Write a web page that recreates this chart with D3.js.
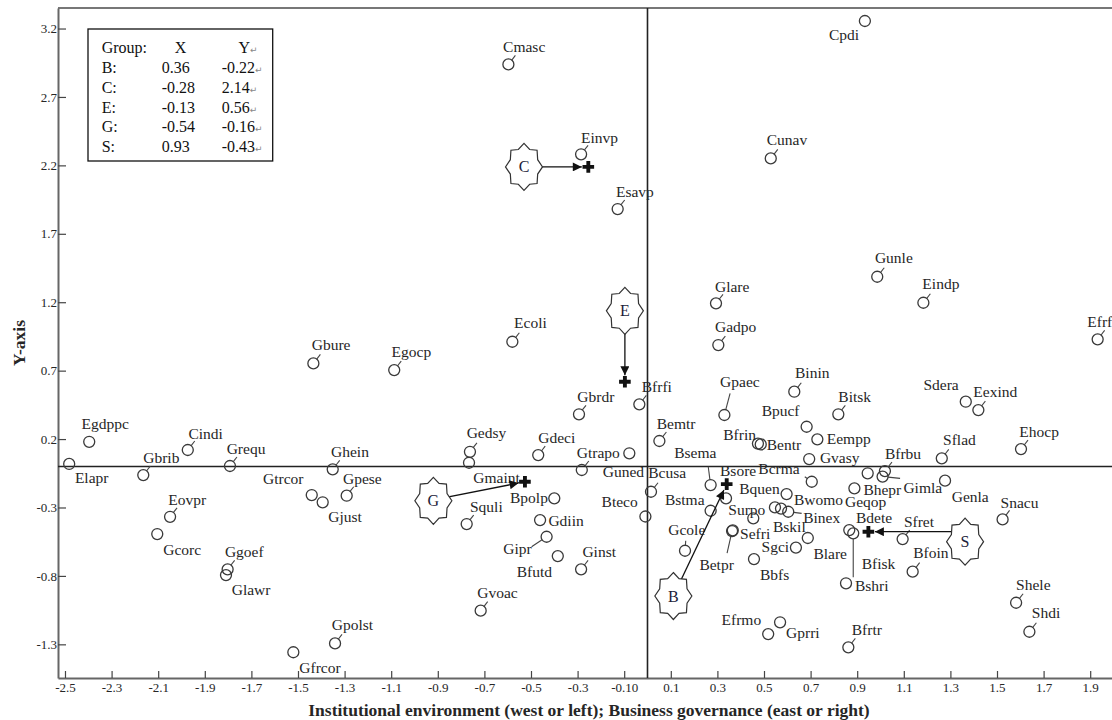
<!DOCTYPE html>
<html><head><meta charset="utf-8">
<script src="https://cdn.jsdelivr.net/npm/d3@7"></script>
<style>
body{margin:0;background:#fff;}
svg{display:block;font-family:"Liberation Serif","Times New Roman",serif;}
</style></head><body>
<svg id="chart" width="1112" height="720"></svg>
<script>
// ---------- DATA ----------
const pointNames = ["Cmasc","Einvp","Esavp","Cpdi","Cunav","Gbure","Egdppc","Cindi","Grequ","Ghein",
"Elapr","Gbrib","Gtrcor","Gjust","Gpese","Eovpr","Gcorc","Ggoef","Glawr","Gpolst",
"Gfrcor","Glare","Gadpo","Ecoli","Egocp","Bfrfi","Gbrdr","Gpaec","Bemtr","Bfrin",
"Bentr","Bpucf","Eempp","Gedsy","Gmaint","Gdeci","Gtrapo","Guned","Bcusa","Bteco",
"Bsema","Bsore","Bstma","Surpo","Bquen","Bwomo","Bskil","Binex","Sefri","Betpr",
"Sgci","Blare","Gcole","Bbfs","Bcrma","Gvasy","Bfrbu","Gimla","Geqop","Bhepr",
"Bdete","Bfisk","Bshri","Sfret","Bfoin","Genla","Sflad","Snacu","Ehocp","Sdera",
"Eexind","Binin","Bitsk","Gunle","Eindp","Efrf","Squli","Bpolp","Gdiin","Gipr",
"Bfutd","Ginst","Gvoac","Efrmo","Gprri","Bfrtr","Shele","Shdi"];
const pointX = [-0.597,-0.285,-0.128,0.933,0.529,-1.434,-2.396,-1.973,-1.792,-1.351,
-2.482,-2.164,-1.441,-1.394,-1.291,-2.049,-2.104,-1.802,-1.809,-1.341,
-1.520,0.294,0.304,-0.580,-1.087,-0.035,-0.294,0.330,0.051,0.474,
0.486,0.683,0.729,-0.762,-0.766,-0.469,-0.078,-0.282,0.015,-0.009,
0.271,0.337,0.271,0.454,0.597,0.547,0.573,0.604,0.366,0.363,
0.637,0.688,0.161,0.457,0.705,0.694,1.019,1.009,0.945,0.888,
0.866,0.883,0.852,1.095,1.138,1.277,1.263,1.524,1.603,1.366,
1.420,0.630,0.819,0.986,1.184,1.932,-0.776,-0.400,-0.461,-0.433,
-0.385,-0.285,-0.716,0.518,0.569,0.862,1.582,1.639];
const pointY = [2.938,2.281,1.881,3.255,2.251,0.753,0.180,0.120,0.003,-0.021,
0.018,-0.063,-0.209,-0.262,-0.214,-0.368,-0.494,-0.752,-0.794,-1.293,
-1.358,1.192,0.887,0.911,0.704,0.454,0.381,0.376,0.186,0.167,
0.161,0.290,0.198,0.107,0.027,0.083,0.096,-0.026,-0.185,-0.366,
-0.136,-0.233,-0.324,-0.379,-0.202,-0.299,-0.308,-0.331,-0.467,-0.472,
-0.593,-0.523,-0.616,-0.677,-0.112,0.054,-0.034,-0.074,-0.050,-0.160,
-0.465,-0.489,-0.854,-0.531,-0.769,-0.104,0.059,-0.387,0.127,0.473,
0.412,0.546,0.381,1.386,1.196,0.929,-0.421,-0.233,-0.392,-0.514,
-0.655,-0.752,-1.054,-1.225,-1.139,-1.322,-0.996,-1.208];

const groupNames = ["B","C","E","G","S"];
const groupTableX = ["0.36","-0.28","-0.13","-0.54","0.93"];
const groupTableY = ["-0.22","2.14","0.56","-0.16","-0.43"];
const centroidX = [0.340,-0.254,-0.097,-0.526,0.948];
const centroidY = [-0.129,2.189,0.619,-0.112,-0.477];
const starX = [0.111,-0.530,-0.097,-0.919,1.363];
const starY = [-0.947,2.189,1.137,-0.251,-0.550];
const arrowFromX = [0.111,-0.530,-0.097,-0.919,1.363];
const arrowFromY = [-0.947,2.189,1.137,-0.245,-0.477];

const xTicks = [-2.5,-2.3,-2.1,-1.9,-1.7,-1.5,-1.3,-1.1,-0.9,-0.7,-0.5,-0.3,-0.1,0.1,0.3,0.5,0.7,0.9,1.1,1.3,1.5,1.7,1.9];
const yTicks = [-1.3,-0.8,-0.3,0.2,0.7,1.2,1.7,2.2,2.7,3.2];

// ---------- LAYOUT (label offsets in px, leader: 0 none, 1 short tail, [dx,dy] end) ----------
const labelOffsets = [[-5.3,-12],[0,-11.3],[-1.7,-12.3],[-36,19],[-4,-13.3],[-1.6,-13.3],[-7.6,-12.4],[0.6,-11],[-3.3,-12],[-1.7,-12.6],
[5.7,19.5],[0,-12.3],[-48.7,-11],[5.6,19.4],[-3.7,-11.7],[-1.7,-11.7],[6,21],[-2.7,-12.6],[5.7,20],[-3.3,-13.3],
[6,20.4],[-1,-11.6],[-3.3,-13.3],[1.7,-13.4],[-2.6,-12.7],[2.4,-12.6],[-1.7,-12.6],[-4.3,-28.3],[-2.6,-11.7],[-34.7,-3.5],
[6,5.7],[-45,-10.7],[9.4,4.7],[-3.3,-13.7],[4.3,20.6],[0,-12],[-52.6,4.7],[21,6.7],[-2.7,-13.7],[-43.8,-9.8],
[-36.4,-27],[-6,-22.3],[-45.7,-5.7],[-25,-3],[-47.4,0],[19,-2.3],[-8,23.5],[15,11.6],[7.3,9],[-32.7,39],
[-34.3,4.8],[5.6,21],[-16.7,-15.7],[6,21],[-53.4,-7.4],[10.7,4.3],[0,-12],[20.8,16.5],[-22.7,34],[9,6.5],
[6.7,-6.7],[8.4,35.7],[9,7.4],[1.3,-12.3],[0.6,-13.4],[6.7,21.6],[1.3,-13.3],[-2,-11],[-1.7,-12.3],[-42.4,-11.7],
[-5,-13.3],[0.7,-13.4],[0,-12.6],[-2.3,-13.4],[-1,-13.4],[-10.4,-12.6],[3.3,-12.3],[-44.3,5],[8.3,6],[-43.4,17.3],
[-41,20.7],[1.3,-12.6],[-3.4,-12.4],[-46.6,-9],[6,16],[3.4,-12.3],[0,-12.7],[2.4,-13.4]];
const leaders = [1,1,1,0,1,1,0,1,1,1,
0,1,0,0,1,1,0,1,0,1,
0,1,1,1,1,1,1,[5.7,-21.7],1,0,
0,0,0,1,0,1,0,1,1,0,
[-2.4,-18.3],0,0,0,0,0,0,[13.4,1.6],0,[-5,22],
0,0,[0.7,-10],0,[-7,-5],0,1,[17.5,1.8],0,0,
0,[0,44],0,1,1,0,1,1,1,0,
1,1,1,1,1,1,1,0,0,[-15,10],
0,1,1,0,0,1,1,1];

// ---------- CHART ----------
const svg = d3.select("#chart");
const W = 1112;
const pLeft = 58, pTop = 8, pBottom = 678;
const x = d3.scaleLinear().domain([-2.53, 2.0]).range([58, 1113.5]);
const y = d3.scaleLinear().domain([-1.546, 3.35]).range([pBottom, pTop]);
const ink = "#262626";

const fmt = d => (d < 0 ? "-" : "") + (Math.abs(d + 0.1) < 1e-9 ? "0.10" : Math.abs(d).toFixed(1));

svg.append("line").attr("x1", pLeft).attr("x2", W).attr("y1", pTop).attr("y2", pTop)
  .attr("stroke", "#777").attr("stroke-width", 2);

const gx = svg.append("g").attr("transform", `translate(0,${pBottom})`)
  .call(d3.axisBottom(x).tickValues(xTicks).tickSizeInner(-7).tickSizeOuter(0).tickPadding(5).tickFormat(fmt));
const gy = svg.append("g").attr("transform", `translate(${pLeft},0)`)
  .call(d3.axisLeft(y).tickValues(yTicks).tickSizeInner(-8).tickSizeOuter(0).tickPadding(1).tickFormat(fmt));
[gx, gy].forEach(g => {
  g.select(".domain").attr("stroke", "#666").attr("stroke-width", 2);
  g.selectAll(".tick line").attr("stroke", "#444").attr("stroke-width", 1.2);
  g.selectAll(".tick text").attr("fill", ink).style("font-size", "13px")
    .style("font-family", "'Liberation Serif',serif");
});

svg.append("line").attr("x1", x(0)).attr("x2", x(0)).attr("y1", pTop).attr("y2", pBottom)
  .attr("stroke", "#222").attr("stroke-width", 1.6);
svg.append("line").attr("x1", pLeft).attr("x2", W).attr("y1", y(0)).attr("y2", y(0))
  .attr("stroke", "#222").attr("stroke-width", 1.6);

svg.append("text").attr("transform", "translate(25,343) rotate(-90)")
  .attr("text-anchor", "middle").attr("font-weight", "bold").attr("font-size", 17.5).attr("fill", ink)
  .text("Y-axis");
svg.append("text").attr("x", 589).attr("y", 716).attr("text-anchor", "middle")
  .attr("font-weight", "bold").attr("font-size", 17.5).attr("fill", ink)
  .text("Institutional environment (west or left); Business governance (east or right)");

const pts = pointNames.map((n, i) => ({ name: n, px: x(pointX[i]), py: y(pointY[i]),
  off: labelOffsets[i], lead: leaders[i] }));
const R = 5.5;
const gLead = svg.append("g").attr("stroke", "#444").attr("stroke-width", 1.1);
pts.forEach(p => {
  if (!p.lead) return;
  const e = p.lead === 1 ? [7, -9] : p.lead;
  const d = Math.hypot(e[0], e[1]);
  if (d <= R) return;
  gLead.append("line").attr("x1", p.px + e[0] * R / d).attr("y1", p.py + e[1] * R / d)
    .attr("x2", p.px + e[0]).attr("y2", p.py + e[1]);
});
svg.append("g").selectAll("circle").data(pts).join("circle")
  .attr("cx", d => d.px).attr("cy", d => d.py).attr("r", R)
  .attr("fill", "none").attr("stroke", "#3a3a3a").attr("stroke-width", 1.3);
svg.append("g").selectAll("text").data(pts).join("text")
  .attr("x", d => d.px + d.off[0]).attr("y", d => d.py + d.off[1])
  .attr("font-size", 15.5).attr("fill", ink).text(d => d.name);

const defs = svg.append("defs");
defs.append("marker").attr("id", "arr").attr("viewBox", "0 0 10 10").attr("refX", 10).attr("refY", 5)
  .attr("markerWidth", 11).attr("markerHeight", 9).attr("markerUnits", "userSpaceOnUse").attr("orient", "auto")
  .append("path").attr("d", "M0,0L10,5L0,10Z").attr("fill", "#111");

const groups = groupNames.map((g, i) => ({ g, sx: x(starX[i]), sy: y(starY[i]),
  ax: x(arrowFromX[i]), ay: y(arrowFromY[i]), cx: x(centroidX[i]), cy: y(centroidY[i]) }));
groups.forEach(d => {
  const dx = d.cx - d.ax, dy = d.cy - d.ay, L = Math.hypot(dx, dy), gap = 6.5;
  svg.append("line").attr("x1", d.ax).attr("y1", d.ay)
    .attr("x2", d.cx - dx / L * gap).attr("y2", d.cy - dy / L * gap)
    .attr("stroke", "#111").attr("stroke-width", 1.3).attr("marker-end", "url(#arr)");
});
function starPath(rx, ry) {
  const p = [];
  for (let k = 0; k < 16; k++) {
    const a = -Math.PI / 2 + k * Math.PI / 8, r = k % 2 ? 0.8 : 1;
    p.push([Math.cos(a) * r * rx, Math.sin(a) * r * ry]);
  }
  return d3.line()(p) + "Z";
}
const sg = svg.append("g").selectAll("g").data(groups).join("g")
  .attr("transform", d => `translate(${d.sx},${d.sy})`);
sg.append("path").attr("d", starPath(18.5, 23.5)).attr("fill", "#fff").attr("stroke", "#333").attr("stroke-width", 1.2);
sg.append("text").attr("text-anchor", "middle").attr("dy", "0.35em").attr("font-size", 16)
  .attr("fill", "#1d1d3a").text(d => d.g);
svg.append("g").selectAll("path").data(groups).join("path")
  .attr("transform", d => `translate(${d.cx},${d.cy})`)
  .attr("d", d3.symbol(d3.symbolCross, 75)).attr("fill", "#111");

const lg = svg.append("g");
lg.append("rect").attr("x", 88).attr("y", 29).attr("width", 184.7).attr("height", 132)
  .attr("fill", "#fff").attr("stroke", "#111").attr("stroke-width", 1.3);
const ret = t => t.append("tspan").attr("font-family", "'DejaVu Sans',sans-serif").attr("font-size", 9).attr("fill", "#888").text("↵");
const hdr = lg.append("g").attr("font-size", 16).attr("fill", "#111");
hdr.append("text").attr("x", 101.7).attr("y", 53.3).text("Group:");
hdr.append("text").attr("x", 180.5).attr("y", 53.3).attr("text-anchor", "middle").text("X");
const yh = hdr.append("text").attr("x", 238.5).attr("y", 53.3); yh.append("tspan").text("Y"); ret(yh);
groupNames.forEach((g, i) => {
  const by = 73.3 + i * 19.6;
  hdr.append("text").attr("x", 101.7).attr("y", by).text(g + ":");
  hdr.append("text").attr("x", 161.7).attr("y", by).text(groupTableX[i]);
  const t = hdr.append("text").attr("x", 221.7).attr("y", by);
  t.append("tspan").text(groupTableY[i]); ret(t);
});
</script>
</body></html>
